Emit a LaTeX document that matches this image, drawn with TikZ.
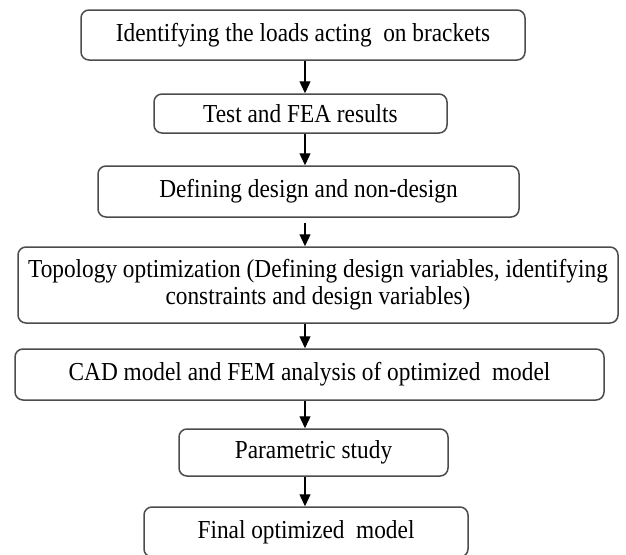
\documentclass[tikz,border=0pt]{standalone}
\usepackage{fontspec}
\setmainfont{Liberation Serif}[FakeStretch=0.9]
\usetikzlibrary{arrows.meta}

\begin{document}
\begin{tikzpicture}[x=1pt, y=-1pt,
      box/.style={draw=black!70, line width=1.5pt, rounded corners=8pt, inner sep=0pt, align=center, font=\fontsize{25.9}{27}\selectfont},
      arr/.style={-{Triangle[width=11pt,length=12pt]}, line width=1.3pt}
    ]
    \useasboundingbox (0,0) rectangle (626,554);
    \clip (0,0) rectangle (626,554);
    \coordinate (ax) at (305,0);
    \foreach \n/\x/\y/\w/\h/\txt in {b1/303/35/444/50/{Identifying the loads acting\ \ on brackets},b2/300.5/113.5/293/39/{Test and FEA results},b3/308.5/191.5/421/51/{Defining design and non-design},b4/318/285/600/76/{Topology optimization (Defining design variables, identifying\\constraints and design variables)},b5/309.5/374.5/589/51/{CAD model and FEM analysis of optimized\ \ model},b6/313.5/452.5/269/47/{Parametric study},b7/306/532/324/50/{Final optimized\ \ model}} {
      \node[box, minimum width=\w pt, minimum height=\h pt] (\n) at (\x,\y) {\txt};
    }
    \foreach \a/\b/\s in {b1/b2/0,b2/b3/0,b3/b4/5,b4/b5/0,b5/b6/0,b6/b7/0} {
      \draw[arr, shorten <=\s pt] (\a.south -| ax) -- (\b.north -| ax);
    }
  \end{tikzpicture}
\end{document}
